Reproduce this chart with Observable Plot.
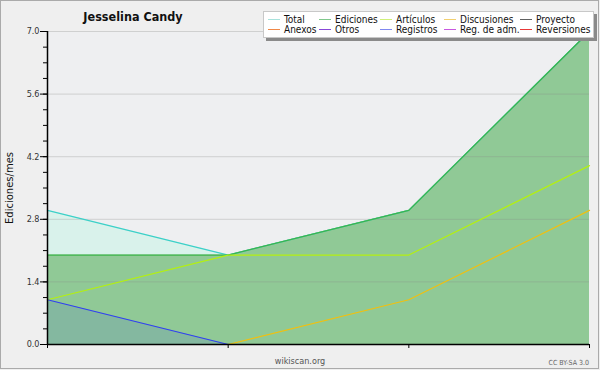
<!DOCTYPE html>
<html><head><meta charset="utf-8">
<script src="https://cdn.jsdelivr.net/npm/d3@7"></script>
<script src="https://cdn.jsdelivr.net/npm/@observablehq/plot@0.6"></script>
<style>
body{margin:0;background:#efefef}
svg{display:block}
</style>
</head><body><div id="chart"></div>
<script>
// ---- data ----
const months = [0, 1, 2, 3];
const total = [3, 2, 3, 7];
const ediciones = [2, 2, 3, 7];
const articulos = [1, 2, 2, 4];
const discusiones = [null, 0, 1, 3];
const registros = [1, 0, null, null];
const yTicks = [0, 1.4, 2.8, 4.2, 5.6, 7.0];
const yMinorTicks = [0,0.35,0.7,1.05,1.4,1.75,2.1,2.45,2.8,3.15,3.5,3.85,4.2,4.55,4.9,5.25,5.6,5.95,6.3,6.65,7.0];
const legendRow1 = ["Total", "Ediciones", "Artículos", "Discusiones", "Proyecto"];
const legendRow2 = ["Anexos", "Otros", "Registros", "Reg. de adm.", "Reversiones"];
const legendColors1 = ["#a8e2dc", "#80c88c", "#d0f07a", "#f2d070", "#606060"];
const legendColors2 = ["#f08848", "#8848d8", "#8088f0", "#c858e0", "#e83838"];
const title = "Jesselina Candy";
const yLabel = "Ediciones/mes";

const rows = months.map((m, i) => ({
  m, total: total[i], ediciones: ediciones[i], articulos: articulos[i],
  discusiones: discusiones[i], registros: registros[i]
}));

const font = "'DejaVu Sans Condensed', 'DejaVu Sans', sans-serif";
const fontWide = "'DejaVu Sans', sans-serif";

const chart = Plot.plot({
  width: 600, height: 370,
  marginLeft: 47, marginRight: 11, marginTop: 31, marginBottom: 26,
  style: {background: "transparent", fontFamily: font, fontSize: "9px", color: "#333"},
  x: {domain: [0, 3], label: null, axis: null},
  y: {domain: [0, 7], label: null, axis: null},
  marks: [
    Plot.frame({fill: "#eeeff1", stroke: null}),
    Plot.areaY(rows, {x: "m", y: "total", fill: "#d9f2eb"}),
    Plot.areaY(rows, {x: "m", y: "ediciones", fill: "#90c996"}),
    Plot.areaY(rows, {x: "m", y: "registros", fill: "#3040f0", fillOpacity: 0.12}),
    Plot.gridY(yTicks, {stroke: "#888", strokeOpacity: 0.3}),
    Plot.lineY(rows, {x: "m", y: "total", stroke: "#3cd0c8", strokeWidth: 1.2}),
    Plot.lineY(rows, {x: "m", y: "ediciones", stroke: "#3cb44b", strokeWidth: 1.3}),
    Plot.lineY(rows, {x: "m", y: "articulos", stroke: "#b4f010", strokeWidth: 1.2}),
    Plot.lineY(rows, {x: "m", y: "discusiones", stroke: "#f0c010", strokeWidth: 1.2}),
    Plot.lineY(rows, {x: "m", y: "registros", stroke: "#3040f0", strokeWidth: 1.2}),
    Plot.axisY(yMinorTicks, {tickSize: 4, tickFormat: () => "", stroke: "#000"}),
    Plot.axisY(yTicks, {tickSize: 7, tickPadding: 1, tickFormat: d3.format(".1f"), stroke: "#000", fill: "#333", fontSize: 9}),
    Plot.axisX(months, {tickSize: 4, tickFormat: () => "", stroke: "#000"}),
    Plot.ruleX([0], {stroke: "#000", strokeWidth: 1.5}),
    Plot.ruleY([0], {stroke: "#000", strokeWidth: 1.5})
  ]
});

document.getElementById("chart").appendChild(chart);

const svg = d3.select(chart);
// outer border
svg.append("rect").attr("x", 0.5).attr("y", 0.5).attr("width", 598).attr("height", 368)
  .attr("fill", "none").attr("stroke", "#aaa");

// title
svg.append("text").attr("x", 133).attr("y", 21).attr("text-anchor", "middle")
  .attr("font-family", font).attr("font-weight", "bold").attr("font-size", 12.5)
  .attr("fill", "#111").text(title);

// y label
svg.append("text").attr("transform", "translate(13,188) rotate(-90)")
  .attr("text-anchor", "middle").attr("font-family", fontWide).attr("font-size", 10)
  .attr("fill", "#111").text(yLabel);

// footer
svg.append("text").attr("x", 300).attr("y", 364).attr("text-anchor", "middle")
  .attr("font-family", font).attr("font-size", 9).attr("fill", "#555").text("wikiscan.org");
svg.append("text").attr("x", 589).attr("y", 365).attr("text-anchor", "end")
  .attr("font-family", font).attr("font-size", 7).attr("fill", "#666").text("CC BY-SA 3.0");

// legend
const lg = svg.append("g");
lg.append("rect").attr("x", 266).attr("y", 14).attr("width", 331).attr("height", 27).attr("fill", "#8a8a8a");
lg.append("rect").attr("x", 263.5).attr("y", 11.5).attr("width", 330).attr("height", 26)
  .attr("fill", "#fff").attr("stroke", "#c8c8c8");
const colX = [268, 319, 380, 444, 520];
[[legendRow1, legendColors1, 19], [legendRow2, legendColors2, 29]].forEach(([labels, colors, y]) => {
  labels.forEach((lab, i) => {
    lg.append("line").attr("x1", colX[i]).attr("x2", colX[i] + 12).attr("y1", y + 0.5).attr("y2", y + 0.5)
      .attr("stroke", colors[i]).attr("stroke-width", 1);
    lg.append("text").attr("x", colX[i] + 16).attr("y", y + 4).attr("text-anchor", "start")
      .attr("font-family", font).attr("font-size", 10).attr("fill", "#111").text(lab);
  });
});
</script>
</body></html>
